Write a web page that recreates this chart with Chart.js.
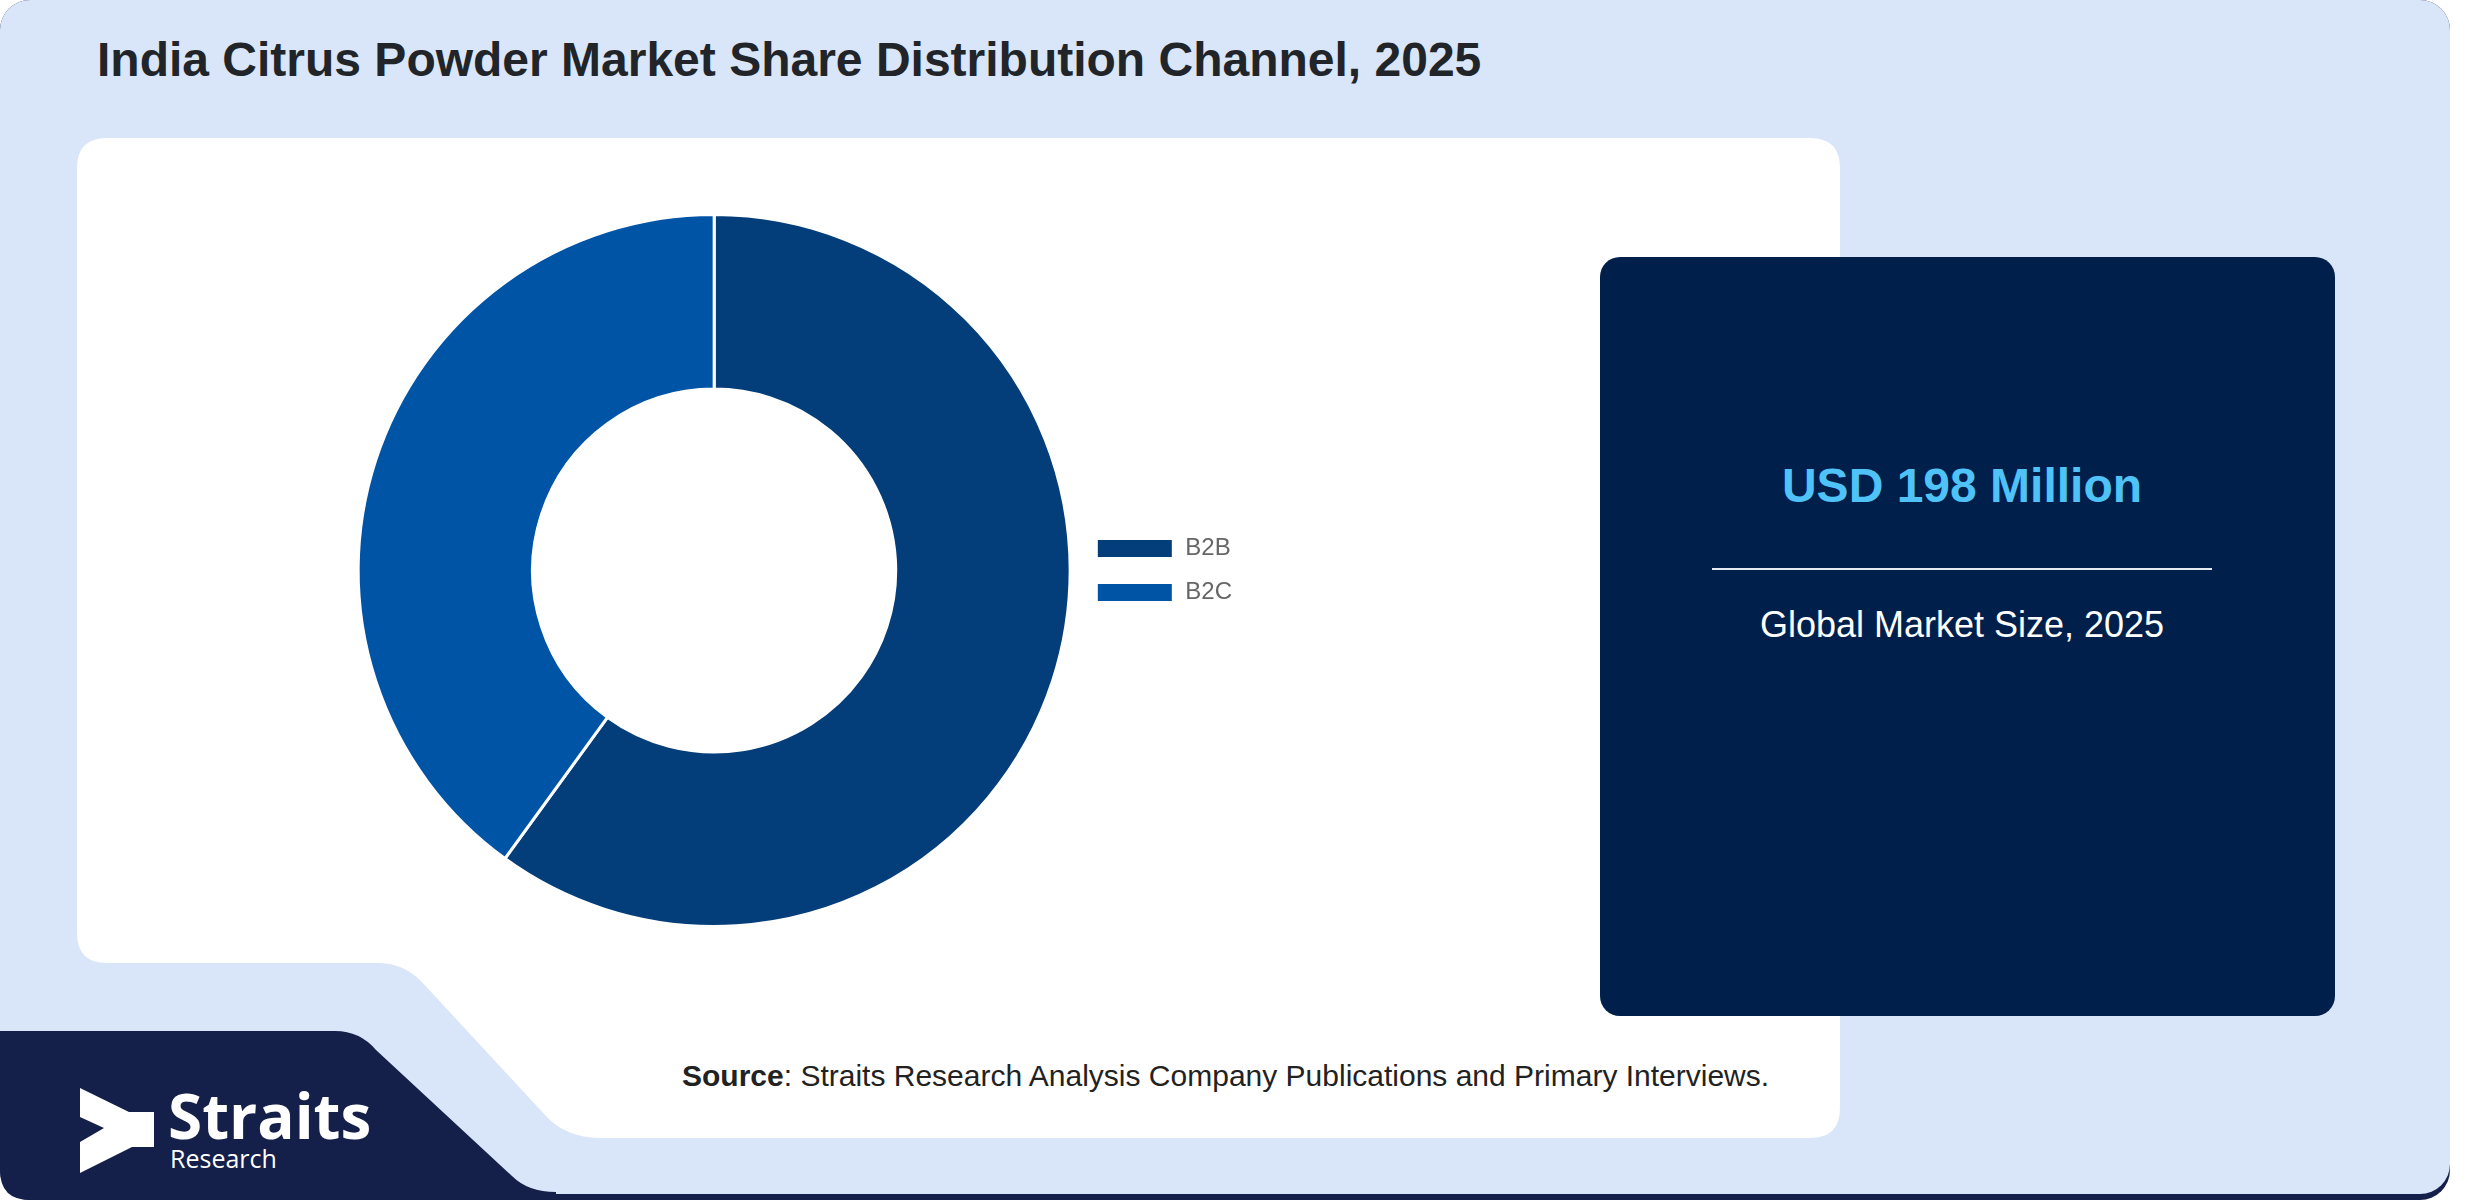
<!DOCTYPE html>
<html>
<head>
<meta charset="utf-8">
<script src="https://cdn.jsdelivr.net/npm/chart.js@4.4.1/dist/chart.umd.min.js"></script>
<style>
  html, body { margin: 0; padding: 0; background: #ffffff; }
  body { width: 2480px; height: 1200px; position: relative; overflow: hidden; font-family: "Liberation Sans", Arial, sans-serif; }
  #bg { position: absolute; left: 0; top: 0; }
  .abs { position: absolute; white-space: nowrap; }
  #title { left: 97px; top: 32px; font-size: 48px; font-weight: bold; color: #212529; line-height: 56px; }
  #chartBox { position: absolute; left: 352px; top: 213px; width: 890px; height: 715px; }
  #usd { left: 1595px; width: 734px; text-align: center; top: 458px; font-size: 48px; font-weight: bold; color: #4fc3f7; line-height: 56px; }
  #rule { position: absolute; left: 1712px; top: 568px; width: 500px; height: 2px; background: #e6e9ef; }
  #gms { left: 1595px; width: 734px; text-align: center; top: 603px; font-size: 36px; color: #ffffff; line-height: 44px; }
  #source { left: 682px; top: 1059px; font-size: 30px; color: #222222; line-height: 34px; }
  #straits { left: 168px; top: 1080px; font-family: "Open Sans", sans-serif; font-weight: 700; font-size: 62px; color: #ffffff; line-height: 70px; }
  #research { left: 170px; top: 1143px; font-family: "Open Sans", sans-serif; font-size: 25px; color: #ffffff; line-height: 30px; }
</style>
</head>
<body>
<svg id="bg" width="2480" height="1200" viewBox="0 0 2480 1200">
  <rect x="0" y="0" width="2450" height="1200" rx="30" ry="30" fill="#14204a"/>
  <rect x="0" y="0" width="2450" height="1194" rx="30" ry="30" fill="#d9e5f8"/>
  <path d="M 0 1031 L 335 1031 Q 360 1031 376 1050 L 512 1176 Q 528 1192 556 1192 L 556 1200 L 30 1200 Q 0 1200 0 1170 Z" fill="#14204a"/>
  <path d="M 107 138 L 1810 138 Q 1840 138 1840 168 L 1840 1108 Q 1840 1138 1810 1138 L 602 1138 Q 566 1138 546 1116 L 420 980 Q 402 963 378 963 L 107 963 Q 77 963 77 933 L 77 168 Q 77 138 107 138 Z" fill="#ffffff"/>
  <rect x="1600" y="257" width="735" height="759" rx="20" ry="20" fill="#011f4b"/>
  <path d="M 80 1088 L 129 1112 L 154 1112 L 154 1147 L 132 1147 L 80 1173 L 80 1142 L 104 1128 L 80 1117 Z" fill="#ffffff"/>
</svg>

<div id="title" class="abs">India Citrus Powder Market Share Distribution Channel, 2025</div>

<div id="chartBox"><canvas id="c"></canvas></div>

<div id="usd" class="abs">USD 198 Million</div>
<div id="rule"></div>
<div id="gms" class="abs">Global Market Size, 2025</div>

<div id="source" class="abs"><b>Source</b>: Straits Research Analysis Company Publications and Primary Interviews.</div>

<div id="straits" class="abs">Straits</div>
<div id="research" class="abs">Research</div>

<script>
const categories = ['B2B', 'B2C'];
const shares = [60, 40];
const sliceColors = ['#033d7a', '#0054a6'];

new Chart(document.getElementById('c'), {
  type: 'doughnut',
  data: {
    labels: categories,
    datasets: [{
      data: shares,
      backgroundColor: sliceColors,
      borderColor: '#ffffff',
      borderWidth: 3,
      hoverOffset: 0
    }]
  },
  options: {
    responsive: true,
    maintainAspectRatio: false,
    animation: false,
    cutout: '51%',
    layout: { padding: 0 },
    plugins: {
      tooltip: { enabled: false },
      legend: {
        position: 'right',
        align: 'center',
        labels: {
          boxWidth: 77,
          boxHeight: 20,
          padding: 20,
          color: '#666666',
          font: { family: '"Liberation Sans", Arial, sans-serif', size: 24 }
        }
      }
    }
  }
});
</script>
</body>
</html>
